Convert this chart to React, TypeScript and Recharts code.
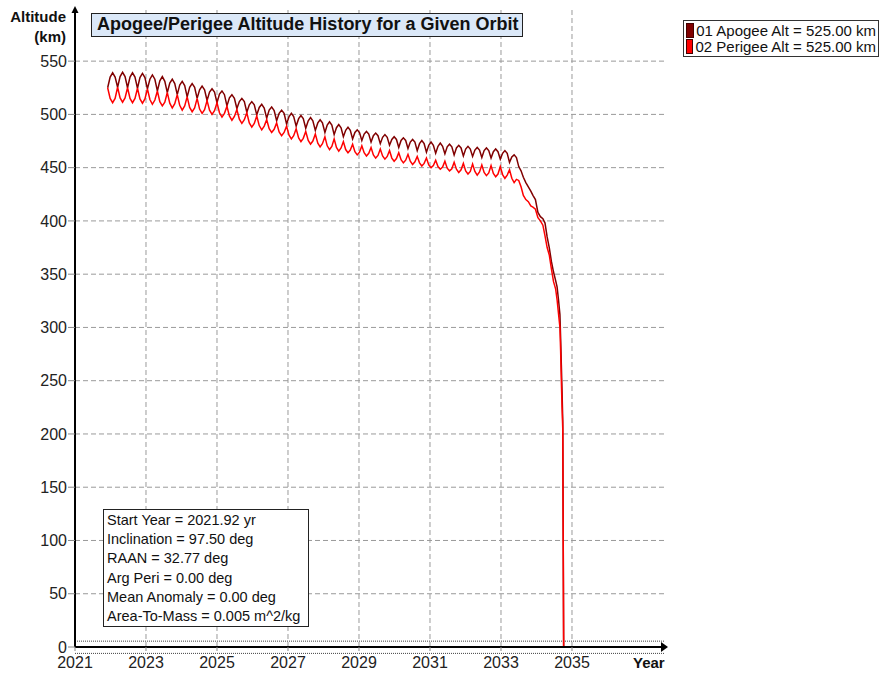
import React from "react";
import {
  LineChart,
  Line,
  XAxis,
  YAxis,
  ReferenceLine,
  ReferenceDot,
  Legend,
} from "recharts";

// Sample times (years)
const years: number[] = [
  2021.92, 2021.99, 2022.06, 2022.13,
  2022.2, 2022.27, 2022.34, 2022.41,
  2022.48, 2022.55, 2022.62, 2022.69,
  2022.76, 2022.83, 2022.9, 2022.97,
  2023.04, 2023.11, 2023.18, 2023.25,
  2023.32, 2023.39, 2023.46, 2023.53,
  2023.6, 2023.67, 2023.74, 2023.81,
  2023.88, 2023.95, 2024.02, 2024.09,
  2024.16, 2024.23, 2024.3, 2024.37,
  2024.44, 2024.51, 2024.58, 2024.65,
  2024.72, 2024.79, 2024.86, 2024.93,
  2025.0, 2025.07, 2025.14, 2025.21,
  2025.28, 2025.35, 2025.42, 2025.49,
  2025.56, 2025.63, 2025.7, 2025.77,
  2025.84, 2025.91, 2025.98, 2026.05,
  2026.12, 2026.19, 2026.26, 2026.33,
  2026.4, 2026.47, 2026.54, 2026.61,
  2026.68, 2026.75, 2026.82, 2026.89,
  2026.96, 2027.03, 2027.095, 2027.16,
  2027.23, 2027.3, 2027.365, 2027.43,
  2027.5, 2027.57, 2027.635, 2027.7,
  2027.77, 2027.84, 2027.905, 2027.97,
  2028.04, 2028.105, 2028.17, 2028.235,
  2028.3, 2028.365, 2028.43, 2028.495,
  2028.56, 2028.625, 2028.69, 2028.755,
  2028.82, 2028.885, 2028.95, 2029.015,
  2029.08, 2029.145, 2029.21, 2029.275,
  2029.34, 2029.405, 2029.47, 2029.535,
  2029.6, 2029.665, 2029.73, 2029.795,
  2029.86, 2029.925, 2029.99, 2030.055,
  2030.12, 2030.185, 2030.25, 2030.315,
  2030.38, 2030.445, 2030.51, 2030.575,
  2030.64, 2030.705, 2030.77, 2030.835,
  2030.9, 2030.965, 2031.03, 2031.095,
  2031.16, 2031.225, 2031.29, 2031.355,
  2031.42, 2031.485, 2031.55, 2031.615,
  2031.68, 2031.745, 2031.81, 2031.875,
  2031.94, 2032.005, 2032.07, 2032.135,
  2032.2, 2032.265, 2032.33, 2032.395,
  2032.46, 2032.525, 2032.59, 2032.655,
  2032.72, 2032.785, 2032.85, 2032.915,
  2032.98, 2033.045, 2033.11, 2033.175,
  2033.24, 2033.305, 2033.37, 2033.435,
  2033.5, 2033.565, 2033.63, 2033.7, 2033.77, 2033.84, 2033.9, 2033.97,
  2034.04, 2034.11, 2034.18, 2034.24, 2034.3, 2034.36, 2034.42, 2034.48,
  2034.54, 2034.58, 2034.62, 2034.66, 2034.68, 2034.7, 2034.72, 2034.74,
  2034.765,
];

// 01 Apogee altitude (km)
const apogeeAlt: number[] = [
  525, 535, 539, 535,
  525.5, 535.5, 539.5, 535.5,
  525, 535, 539, 535,
  524.5, 534.5, 538.5, 534.5,
  524, 533, 537, 533,
  522, 531.5, 535.5, 531,
  520.5, 529.5, 533, 529,
  518.5, 527.5, 531, 527,
  516.5, 525.5, 529, 525.5,
  515, 523, 526.5, 523,
  513, 521, 524, 521,
  511, 519, 522, 518.5,
  508, 515.5, 518.5, 515,
  505.5, 512, 515, 512,
  502, 509, 512, 509,
  499.5, 506.5, 509.5, 506,
  496.5, 504, 507, 503.5,
  494, 501, 504, 501,
  491, 498, 501, 498,
  489, 496, 499, 496,
  487, 494, 497, 494,
  485, 492, 495, 492,
  483, 490, 493, 490,
  481, 487.5, 490.5, 487.5,
  479, 485, 488, 485,
  477, 483, 485.5, 483,
  475.5, 481.5, 484, 481.5,
  474, 480, 482.5, 480,
  472.5, 478.5, 481, 478.5,
  471, 476.5, 479, 476.5,
  469, 475.5, 478, 475.5,
  468, 474, 476.5, 474,
  466, 472.5, 475.5, 472.5,
  464.5, 471, 474, 471,
  463.5, 470, 473, 470,
  463, 469.5, 472, 469.5,
  462, 468.5, 471, 468.5,
  461, 467.5, 470, 467.5,
  460.5, 466.5, 469, 466.5,
  459.5, 466, 468.5, 466,
  459, 465, 467.5, 465,
  458, 463.5, 466, 463.5,
  455, 460, 462, 459.5,
  451, 447, 441, 436, 432, 428, 424, 420,
  408, 404, 402, 398, 385, 375, 362, 352,
  344, 338, 326, 312, 290, 265, 240, 212,
  0,
];

// 02 Perigee altitude (km)
const perigeeAlt: number[] = [
  525, 515, 511, 515,
  525.5, 515.5, 511.5, 515.5,
  525, 515, 511, 515,
  524.5, 514.5, 510.5, 514.5,
  524, 514, 509.5, 513.5,
  522, 512, 508, 511.5,
  520.5, 510.5, 506, 510,
  518.5, 508.5, 504, 508,
  516.5, 506.5, 502.5, 506,
  515, 505, 501, 504.5,
  513, 504, 500, 503.5,
  511, 501.5, 497.5, 501,
  507.5, 498.5, 494.5, 498,
  504.5, 495.5, 491.5, 495,
  501.5, 492, 488, 491.5,
  498.5, 489.5, 485.5, 489,
  495, 486.5, 483, 486,
  492, 483.5, 480, 483,
  489, 480.5, 477, 480,
  486.5, 478, 474.5, 477.5,
  484, 475.5, 472, 475,
  481.5, 473, 469.5, 472.5,
  479, 470.5, 467, 470,
  477, 469, 465.5, 468.5,
  474.5, 467, 464, 466.5,
  472, 465, 462, 464.5,
  470.5, 464, 461, 463.5,
  469, 462, 459, 461.5,
  467.5, 461, 458, 460.5,
  466, 459, 456, 458.5,
  464, 457.5, 454.5, 457,
  462.5, 456, 453, 455.5,
  460.5, 454.5, 451.5, 454,
  459, 452.5, 450, 452,
  457, 451, 448.5, 450.5,
  456, 449.5, 447, 449,
  455, 448.5, 445.5, 448,
  454, 447, 444, 446.5,
  453.5, 446.5, 443, 446,
  452.5, 445.5, 442.5, 445,
  452, 444.5, 441.5, 444,
  451, 443.5, 440, 443,
  448, 440, 436, 439,
  438, 432, 424, 420, 418, 414, 413, 411,
  403, 400, 396, 386, 375, 368, 355, 343,
  336, 326, 313, 300, 278, 250, 225, 205,
  0,
];

const xTicks: number[] = [2021, 2023, 2025, 2027, 2029, 2031, 2033, 2035];
const yTicks: number[] = [0, 50, 100, 150, 200, 250, 300, 350, 400, 450, 500, 550];
const xGrid: number[] = [2023, 2025, 2027, 2029, 2031, 2033, 2035];
const yGrid: number[] = [50, 100, 150, 200, 250, 300, 350, 400, 450, 500, 550];

const seriesNames = ["01 Apogee Alt = 525.00 km", "02 Perigee Alt = 525.00 km"];
const seriesColors = ["#800000", "#ff0000"];

const infoLines: string[] = [
  "Start Year = 2021.92 yr",
  "Inclination = 97.50 deg",
  "RAAN = 32.77 deg",
  "Arg Peri = 0.00 deg",
  "Mean Anomaly = 0.00 deg",
  "Area-To-Mass = 0.005 m^2/kg",
];

const titleText = "Apogee/Perigee Altitude History for a Given Orbit";

const data = years.map((y, i) => ({
  year: y,
  apogee: apogeeAlt[i],
  perigee: perigeeAlt[i],
}));

const FONT = '"Liberation Sans", Arial, Helvetica, sans-serif';

const LegendBox = () => (
  <div
    style={{
      border: "1.5px solid #333",
      background: "#fff",
      padding: "1px 2px 1px 2px",
      fontFamily: FONT,
      fontSize: 15,
      color: "#111",
      boxSizing: "border-box",
      width: 196,
    }}
  >
    {seriesNames.map((n, i) => (
      <div key={n} style={{ display: "flex", alignItems: "center", height: 16.5, whiteSpace: "nowrap" }}>
        <span
          style={{
            display: "inline-block",
            width: 7,
            height: 13,
            background: seriesColors[i],
            marginRight: 2,
            border: "0.5px solid #400",
          }}
        />
        <span>{n}</span>
      </div>
    ))}
  </div>
);

const UpArrow = (props: any) => {
  const { cx, cy } = props;
  return <polygon points={`${cx},${cy - 4} ${cx - 3.5},${cy + 3} ${cx + 3.5},${cy + 3}`} fill="#000" />;
};
const RightArrow = (props: any) => {
  const { cx, cy } = props;
  return <polygon points={`${cx + 3},${cy} ${cx - 4},${cy - 5} ${cx - 4},${cy + 5}`} fill="#000" />;
};

export default function App() {
  return (
    <div style={{ position: "absolute", left: 0, top: 0, width: 880, height: 677, background: "#fff", fontFamily: FONT }}>
      <LineChart
        width={880}
        height={677}
        data={data}
        margin={{ top: 10, right: 215, bottom: 0, left: 15 }}
      >
        <XAxis
          dataKey="year"
          type="number"
          domain={[2021, 2037.62]}
          ticks={xTicks}
          allowDataOverflow
          height={30}
          tick={{ fontSize: 16, fill: "#222", fontFamily: FONT }}
          tickLine={{ stroke: "#888" }}
          tickSize={4}
          tickMargin={6}
          axisLine={{ stroke: "#000", strokeWidth: 2 }}
        />
        <YAxis
          type="number"
          domain={[0, 598]}
          ticks={yTicks}
          allowDataOverflow
          width={60}
          tick={{ fontSize: 16, fill: "#222", fontFamily: FONT }}
          tickLine={{ stroke: "#888" }}
          tickSize={7}
          tickMargin={1}
          axisLine={{ stroke: "#000", strokeWidth: 2 }}
        />
        {xGrid.map((t) => (
          <ReferenceLine key={`gx${t}`} x={t} stroke="#9a9a9a" strokeDasharray="5 3" />
        ))}
        {yGrid.map((t) => (
          <ReferenceLine key={`gy${t}`} y={t} stroke="#9a9a9a" strokeDasharray="5 3" />
        ))}
        <ReferenceLine y={5.5} stroke="#444" strokeDasharray="1 1" />
        <ReferenceLine y={-6} stroke="#444" strokeDasharray="1 1" ifOverflow="visible" />
        <Line
          type="linear"
          dataKey="apogee"
          name={seriesNames[0]}
          stroke={seriesColors[0]}
          strokeWidth={1.5}
          dot={false}
          isAnimationActive={false}
        />
        <Line
          type="linear"
          dataKey="perigee"
          name={seriesNames[1]}
          stroke={seriesColors[1]}
          strokeWidth={1.5}
          dot={false}
          isAnimationActive={false}
        />
        <ReferenceDot x={2021} y={598} r={4} shape={UpArrow} ifOverflow="visible" />
        <ReferenceDot x={2037.62} y={0} r={4} shape={RightArrow} ifOverflow="visible" />
        <Legend
          layout="vertical"
          align="center"
          verticalAlign="middle"
          content={() => <LegendBox />}
          wrapperStyle={{ left: 683, top: 20, width: 196, height: 37 }}
        />
      </LineChart>

      {/* Title */}
      <div
        style={{
          position: "absolute",
          left: 91,
          top: 13,
          width: 432,
          height: 24,
          boxSizing: "border-box",
          border: "1.5px solid #222",
          background: "#dbe8f8",
          fontWeight: "bold",
          fontSize: 18,
          lineHeight: "21px",
          paddingLeft: 5,
          color: "#111",
          whiteSpace: "nowrap",
        }}
      >
        {titleText}
      </div>

      {/* Y axis label */}
      <div
        style={{
          position: "absolute",
          left: 0,
          top: 7,
          width: 66,
          textAlign: "right",
          fontWeight: "bold",
          fontSize: 15,
          lineHeight: "20px",
          color: "#111",
        }}
      >
        <div>Altitude</div>
        <div>(km)</div>
      </div>

      {/* X axis label */}
      <div
        style={{
          position: "absolute",
          left: 633,
          top: 654,
          fontWeight: "bold",
          fontSize: 15,
          lineHeight: "18px",
          color: "#111",
        }}
      >
        Year
      </div>

      {/* Info box */}
      <div
        style={{
          position: "absolute",
          left: 103,
          top: 509,
          width: 206,
          height: 118,
          boxSizing: "border-box",
          border: "1.5px solid #222",
          background: "#fff",
          padding: "1px 0 0 3px",
          fontSize: 14.5,
          lineHeight: "19.2px",
          color: "#111",
          whiteSpace: "nowrap",
        }}
      >
        {infoLines.map((l) => (
          <div key={l}>{l}</div>
        ))}
      </div>
    </div>
  );
}
